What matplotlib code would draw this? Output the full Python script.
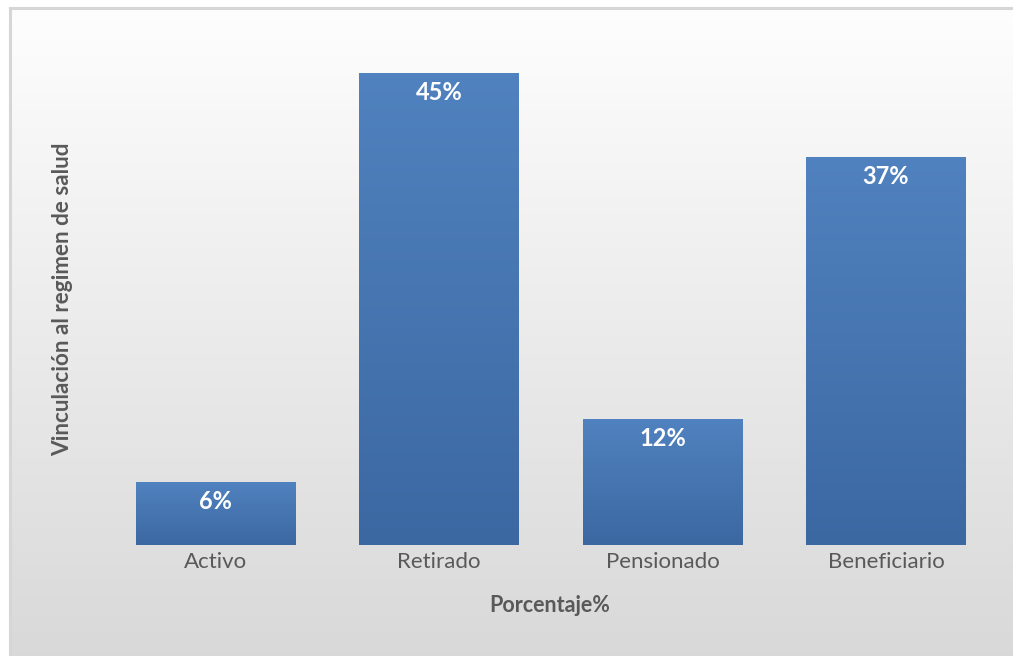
import numpy as np
import matplotlib
matplotlib.use("Agg")
import matplotlib.pyplot as plt
from matplotlib.patches import Rectangle

plt.rcParams["font.family"] = ["Lato", "DejaVu Sans"]

# Datos del gráfico
categorias = ["Activo", "Retirado", "Pensionado", "Beneficiario"]
porcentajes = [6, 45, 12, 37]
etiquetas = ["6%", "45%", "12%", "37%"]

GRIS_TEXTO = "#595959"

fig = plt.figure(figsize=(10.13, 6.56), dpi=100)
fig.patch.set_facecolor("white")

# Fondo con degradado vertical (blanco arriba, gris abajo)
fondo = fig.add_axes([10 / 1013, 0, 1 - 10 / 1013, 648 / 656], zorder=0)
grad = np.linspace(0, 1, 256).reshape(-1, 1)
col_top = np.array([0.995, 0.995, 0.995])
col_bot = np.array([0.85, 0.85, 0.85])
img = col_top + (col_bot - col_top) * grad[:, :, None]
fondo.imshow(img, aspect="auto", extent=[0, 1, 0, 1], origin="upper")
fondo.set_xlim(0, 1)
fondo.set_ylim(0, 1)
fondo.axis("off")
fondo.add_patch(Rectangle((0, -0.2), 1.2, 1.2, transform=fondo.transAxes,
                          fill=False, edgecolor="#d6d6d6", linewidth=2.2,
                          clip_on=False))

ax = fig.add_axes([103.75 / 1013, 111 / 656, 894 / 1013, 524.5 / 656], zorder=1)
ax.patch.set_alpha(0)

x = np.arange(len(categorias))
barras = ax.bar(x, porcentajes, width=0.714, color="#4a7ab6", zorder=2)

# Degradado azul dentro de cada barra
grad_barra = np.linspace(0, 1, 128).reshape(-1, 1)
azul_top = np.array([0x50, 0x82, 0xbf]) / 255
azul_bot = np.array([0x3c, 0x68, 0xa2]) / 255
img_barra = azul_top + (azul_bot - azul_top) * grad_barra[:, :, None]
for b in barras:
    im = ax.imshow(img_barra, aspect="auto", origin="upper", zorder=3,
                   extent=[b.get_x(), b.get_x() + b.get_width(), 0, b.get_height()])
    im.set_clip_path(b)

for xi, v, et in zip(x, porcentajes, etiquetas):
    ax.annotate(et, (xi, v), xytext=(0, -14), textcoords="offset points",
                ha="center", va="center", color="white", fontsize=17,
                fontweight="bold", zorder=4)

ax.set_xlim(-0.5, len(categorias) - 0.5)
ax.set_ylim(0, 50)
ax.set_xticks(x)
ax.set_xticklabels(categorias, fontsize=16, color=GRIS_TEXTO)
ax.tick_params(axis="x", length=0, pad=5)
ax.set_yticks([])
for s in ax.spines.values():
    s.set_visible(False)

fig.text(550 / 1013, 1 - 606 / 656, "Porcentaje%", ha="center", va="center",
         fontsize=15.5, fontweight="bold", color=GRIS_TEXTO)
fig.text(63 / 1013, 1 - 299 / 656, "Vinculación al regimen de salud",
         ha="center", va="center", rotation=90, fontsize=16.2,
         fontweight="bold", color=GRIS_TEXTO)

fig.savefig("out.png", dpi=100)
